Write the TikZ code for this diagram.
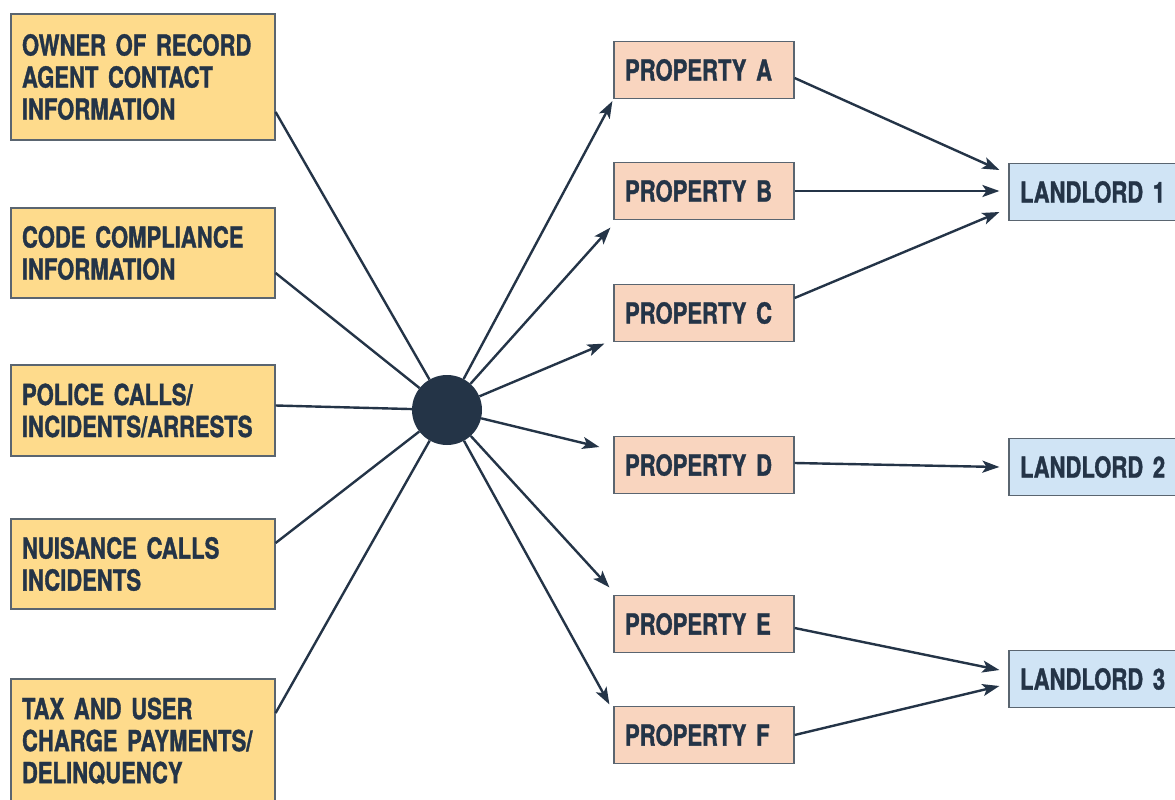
\documentclass[tikz,border=0pt]{standalone}
\usepackage{fontspec}
\setmainfont{TeX Gyre Heros}[FakeStretch=0.76, FakeBold=1.2, WordSpace=0.75]
\usetikzlibrary{arrows.meta}
\definecolor{navy}{HTML}{243447}
\definecolor{yfill}{HTML}{FEDB8C}
\definecolor{pfill}{HTML}{F9D5BF}
\definecolor{bfill}{HTML}{D0E4F5}
\definecolor{bord}{HTML}{5A6570}
\tikzset{
  box/.style={draw=bord, line width=1.2pt, inner xsep=11pt, inner ysep=0pt, align=left,
    font=\fontsize{29}{32}\selectfont\bfseries, text=navy},
  ybox/.style={box, fill=yfill, minimum width=264pt, text width=242pt},
  pbox/.style={box, fill=pfill, minimum width=180pt, text width=158pt, minimum height=57pt},
  lbox/.style={box, fill=bfill, minimum width=180pt, text width=158pt, minimum height=57pt},
  conn/.style={draw=navy, line width=2.4pt},
  arr/.style={conn, -{Stealth[length=17pt,width=12pt,inset=4pt]}}
}
\begin{document}
\begin{tikzpicture}[x=1pt,y=-1pt]
\useasboundingbox (0,0) rectangle (1175,800);
\clip (0,0) rectangle (1175,800);
\fill[white] (0,0) rectangle (1175,800);

% left boxes
\node[ybox, minimum height=126pt] (y1) at (143,77) {OWNER OF RECORD\\AGENT CONTACT\\INFORMATION};
\node[ybox, minimum height=90pt] (y2) at (143,253) {CODE COMPLIANCE\\INFORMATION};
\node[ybox, minimum height=91pt] (y3) at (143,410.5) {POLICE CALLS/\\INCIDENTS/ARRESTS};
\node[ybox, minimum height=90pt] (y4) at (143,564) {NUISANCE CALLS\\INCIDENTS};
\node[ybox, minimum height=124pt] (y5) at (143,741) {TAX AND USER\\CHARGE PAYMENTS/\\DELINQUENCY};

% hub
\node[circle, fill=navy, minimum size=70pt, inner sep=0pt] (hub) at (447,410) {};

% properties
\node[pbox] (pA) at (704,70) {PROPERTY A};
\node[pbox] (pB) at (704,191) {PROPERTY B};
\node[pbox] (pC) at (704,313) {PROPERTY C};
\node[pbox] (pD) at (704,465) {PROPERTY D};
\node[pbox] (pE) at (704,624) {PROPERTY E};
\node[pbox] (pF) at (704,735) {PROPERTY F};

% landlords
\node[lbox] (L1) at (1099,192) {LANDLORD 1};
\node[lbox] (L2) at (1099,467) {LANDLORD 2};
\node[lbox] (L3) at (1099,679) {LANDLORD 3};

% inputs to hub
\draw[conn] ([yshift=-35pt]y1.east) -- (hub);
\draw[conn] ([yshift=-20pt]y2.east) -- (hub);
\draw[conn] ([yshift=5pt]y3.east) -- (hub);
\draw[conn] ([yshift=21pt]y4.east) -- (hub);
\draw[conn] ([yshift=28pt]y5.east) -- (hub);

% hub to properties
\draw[arr] (hub) -- ([xshift=-1pt,yshift=-2pt]pA.south west);
\draw[arr] (hub) -- ([xshift=-3pt,yshift=-7.5pt]pB.south west);
\draw[arr] (hub) -- ([xshift=-9pt,yshift=-1.5pt]pC.south west);
\draw[arr] (hub) -- ([xshift=-14pt,yshift=18pt]pD.west);
\draw[arr] (hub) -- ([xshift=-4pt,yshift=7.5pt]pE.north west);
\draw[arr] (hub) -- ([xshift=-4pt,yshift=1.5pt]pF.north west);

% properties to landlords
\draw[arr] ([yshift=-8pt]pA.east) -- ([xshift=-9pt,yshift=22pt]L1.west);
\draw[arr] (pB.east) -- ([xshift=-9pt,yshift=1pt]L1.west);
\draw[arr] ([yshift=15pt]pC.east) -- ([xshift=-9pt,yshift=-20pt]L1.west);
\draw[arr] ([yshift=2pt]pD.east) -- ([xshift=-9pt]L2.west);
\draw[arr] ([yshift=-4pt]pE.east) -- ([xshift=-9pt,yshift=9pt]L3.west);
\draw[arr] (pF.east) -- ([xshift=-9pt,yshift=-7pt]L3.west);
\end{tikzpicture}
\end{document}
